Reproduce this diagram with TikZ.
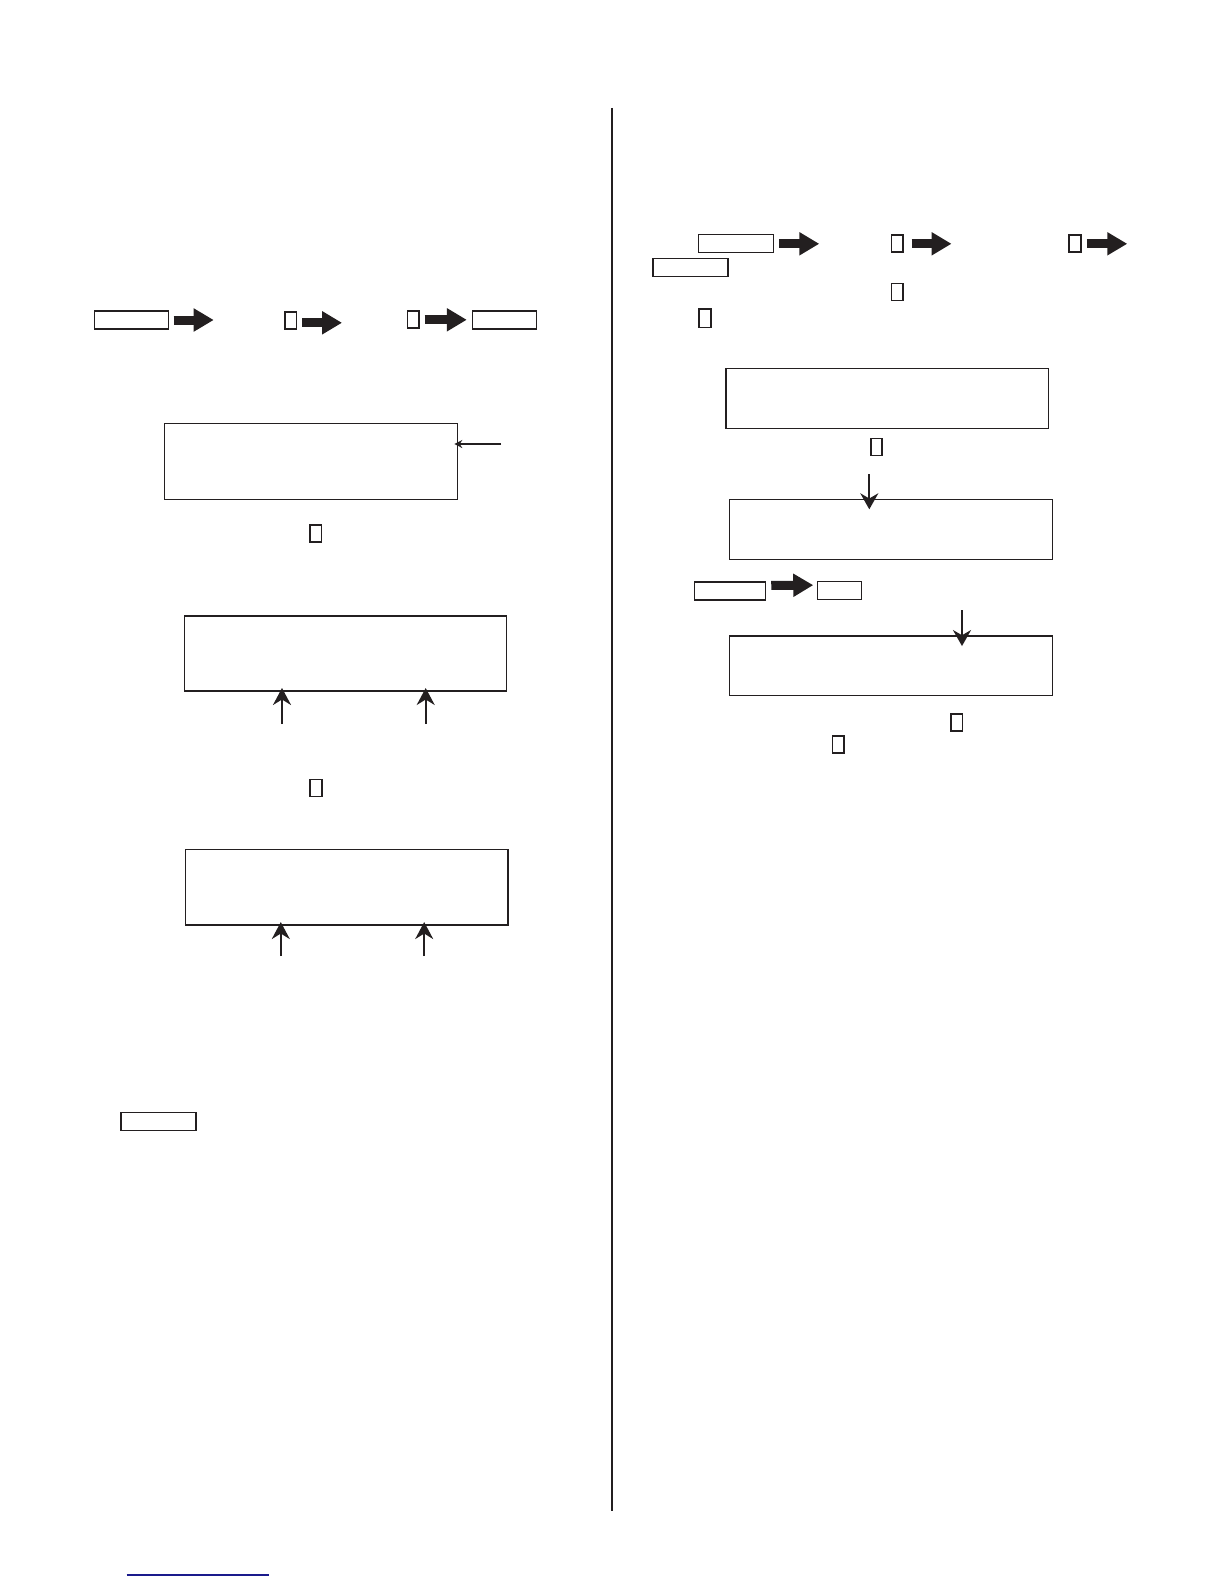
\documentclass[tikz,border=0pt]{standalone}
\usetikzlibrary{arrows.meta}
\definecolor{ink}{HTML}{231F20}
\definecolor{linkblue}{HTML}{1A1A8C}
\begin{document}
\begin{tikzpicture}[
                x=1pt, y=-1pt,
                every node/.style={inner sep=0pt, outer sep=0pt},
                keybox/.style={draw=ink, line width=1.1pt, minimum width=74pt, minimum height=18pt},
                glyph/.style={draw=ink, line width=1.7pt, minimum width=11.5pt, minimum height=17pt},
                screen/.style={draw=ink, line width=1.3pt},
                bigarrow/.style={draw=ink, line width=9pt, -{Triangle[length=20pt,width=22pt]}},
                pointer/.style={draw=ink, line width=2pt, -{Stealth[length=17pt,width=18pt]}, shorten >=-3pt},
                thinpointer/.style={draw=ink, line width=1.3pt, -{Stealth[length=8pt,width=8pt]}, shorten >=-3pt}
            ]

            \useasboundingbox (0,0) rectangle (1224,1584);

            \draw[ink, line width=2pt] (612,108) -- (612,1511);
            \draw[linkblue, line width=1.6pt] (126.7,1575) -- (269,1575);

            % left column
            \node[keybox] (k1) at (131.7,320) {};
            \node[glyph] (g1) at (290.8,320.8) {};
            \node[glyph] (g2) at (413.3,319.8) {};
            \node[keybox, minimum width=64pt] (k2) at (504.8,320) {};
            \draw[bigarrow] ([xshift=5pt]k1.east) -- ++(40,0);
            \draw[bigarrow] ([xshift=5.5pt,yshift=-2pt]g1.east) -- ++(40,0);
            \draw[bigarrow, shorten <=5.5pt, shorten >=6pt] (g2) -- (g2 -| k2.west);

            \node[screen, minimum width=293pt, minimum height=76pt] (s1) at (310.8,461.3) {};
            \coordinate (t1) at (501,444);
            \draw[thinpointer] (t1) -- (t1 -| s1.east);
            \node[glyph] (g3) at (315.8,533.7) {};

            \node[screen, minimum width=322.4pt, minimum height=75pt] (s2) at (345.5,653.5) {};
            \coordinate (t2) at (282,724);
            \coordinate (t3) at (425.7,724);
            \draw[pointer] (t2) -- (t2 |- s2.south);
            \draw[pointer] (t3) -- (t3 |- s2.south);
            \node[glyph] (g4) at (316,788) {};

            \node[screen, minimum width=322.2pt, minimum height=75.7pt] (s3) at (346.9,887.2) {};
            \coordinate (t4) at (280.8,956);
            \coordinate (t5) at (424.2,956);
            \draw[pointer] (t4) -- (t4 |- s3.south);
            \draw[pointer] (t5) -- (t5 |- s3.south);

            \node[keybox, minimum width=75pt] (k3) at (158.5,1121.6) {};

            % right column
            \node[keybox, minimum width=75pt] (k4) at (736.3,243.8) {};
            \node[keybox, minimum width=75pt] (k5) at (690.5,267.8) {};
            \node[glyph] (g5) at (897.3,243.8) {};
            \node[glyph] (g6) at (1075,243.8) {};
            \draw[bigarrow] ([xshift=5.5pt]k4.east) -- ++(40,0);
            \draw[bigarrow] ([xshift=8.5pt]g5.east) -- ++(40,0);
            \draw[bigarrow] ([xshift=6pt]g6.east) -- ++(40.5,0);
            \node[glyph] (g7) at (897.3,292) {};
            \node[glyph, minimum height=18.5pt] (g8) at (705,318.3) {};

            \node[screen, minimum width=322.2pt, minimum height=59.6pt] (s4) at (887.2,398.4) {};
            \node[glyph] (g9) at (876.5,446.9) {};

            \node[screen, minimum width=323pt, minimum height=60pt] (s5) at (890.8,529.3) {};
            \coordinate (t6) at (869.3,474);
            \draw[pointer, shorten >=-10pt, -{Stealth[length=16pt,width=18pt]}] (t6) -- (t6 |- s5.north);

            \node[keybox, minimum width=70.5pt] (k6) at (730,591) {};
            \node[keybox, minimum width=43.5pt] (k7) at (839.5,590.6) {};
            \draw[bigarrow, shorten <=6pt, shorten >=4.5pt] ([yshift=5.5pt]k6.east) -- ([yshift=5.5pt]k7.west);

            \node[screen, minimum width=323pt, minimum height=59.7pt] (s6) at (890.8,665.9) {};
            \coordinate (t7) at (962,610);
            \draw[pointer, shorten >=-10pt, -{Stealth[length=16pt,width=18pt]}] (t7) -- (t7 |- s6.north);
            \node[glyph] (g10) at (956.7,722.8) {};
            \node[glyph] (g11) at (838.3,744.7) {};

        \end{tikzpicture}
\end{document}
